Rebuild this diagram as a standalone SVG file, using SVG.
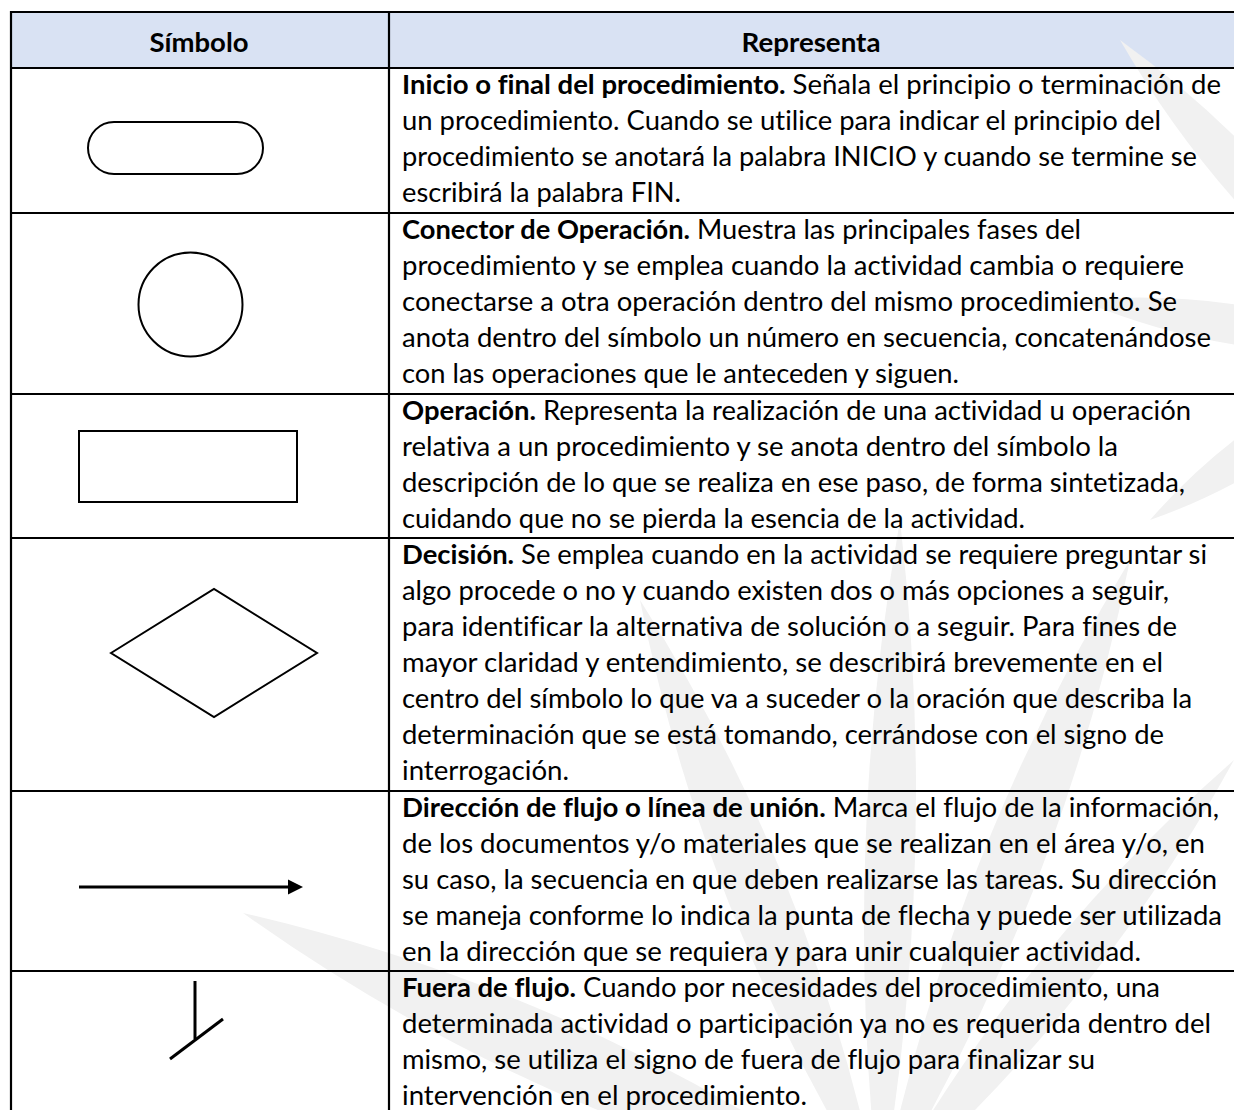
<svg xmlns="http://www.w3.org/2000/svg" width="1234" height="1110" viewBox="0 0 1234 1110">
<style>
.grid{stroke:#000;stroke-width:2.2;fill:none}
.sym{stroke:#000;fill:none;stroke-width:2}
.hd{font-family:Lato,"Liberation Sans",Arial,sans-serif;font-weight:bold;font-size:27px;fill:#000;text-anchor:middle}
.tx{font-family:Lato,"Liberation Sans",Arial,sans-serif;font-size:27px;fill:#000;font-variant-ligatures:none}
.b{font-weight:bold}
.wm{fill:#f1f1f1}
</style>
<rect x="0" y="0" width="1234" height="1110" fill="#fff"/>
<rect x="11" y="12" width="1223" height="56" fill="#D9E2F3"/>
<g id="watermark">
<path class="wm" d="M880,1200 Q590,993 243,913 Q533,1120 880,1200 Z"/>
<path class="wm" d="M880,1200 Q816,878 640,600 Q704,922 880,1200 Z"/>
<path class="wm" d="M880,1200 Q940,862 900,520 Q840,858 880,1200 Z"/>
<path class="wm" d="M880,1200 Q1061,902 1130,560 Q949,858 880,1200 Z"/>
<path class="wm" d="M880,1200 Q1096,1011 1234,760 Q1018,949 880,1200 Z"/>
<path class="wm" d="M1400,350 Q1293,165 1120,40 Q1227,225 1400,350 Z"/>
<path class="wm" d="M1400,350 Q1246,286 1080,300 Q1234,365 1400,350 Z"/>
<path class="wm" d="M1400,350 Q1298,468 1150,520 Q1253,402 1400,350 Z"/>
</g>
<g id="table">
<line class="grid" x1="11" y1="12" x2="1234" y2="12"/>
<line class="grid" x1="11" y1="68" x2="1234" y2="68"/>
<line class="grid" x1="11" y1="213" x2="1234" y2="213"/>
<line class="grid" x1="11" y1="394" x2="1234" y2="394"/>
<line class="grid" x1="11" y1="538" x2="1234" y2="538"/>
<line class="grid" x1="11" y1="791" x2="1234" y2="791"/>
<line class="grid" x1="11" y1="971" x2="1234" y2="971"/>
<line class="grid" x1="11" y1="11" x2="11" y2="1110"/>
<line class="grid" x1="389" y1="11" x2="389" y2="1110"/>
</g>
<g id="header">
<text class="hd" x="199" y="52" textLength="99" lengthAdjust="spacingAndGlyphs">Símbolo</text>
<text class="hd" x="811" y="52" textLength="139" lengthAdjust="spacingAndGlyphs">Representa</text>
</g>
<g id="node-terminal">
<rect class="sym" x="88" y="122" width="175" height="52" rx="26" ry="26" stroke-width="1.5"/>
</g>
<g id="node-connector">
<circle class="sym" cx="190.5" cy="304.5" r="52" stroke-width="1.5"/>
</g>
<g id="node-operation">
<rect class="sym" x="79" y="431" width="218" height="71"/>
</g>
<g id="node-decision">
<polygon class="sym" points="111,653 214,589 317,653 214,717"/>
</g>
<g id="connectors">
<g id="node-flow">
<line x1="79" y1="887" x2="290" y2="887" stroke="#000" stroke-width="3"/>
<polygon points="288,879.5 303,887 288,894.5" fill="#000"/>
</g>
<g id="node-offflow">
<line x1="195" y1="981" x2="195" y2="1039" stroke="#000" stroke-width="3"/>
<line x1="170" y1="1059" x2="223" y2="1019" stroke="#000" stroke-width="3"/>
</g>
</g>
<g id="text-row1">
<text class="tx" x="402" y="94" textLength="819" lengthAdjust="spacingAndGlyphs"><tspan class="b">Inicio o final del procedimiento.</tspan> Señala el principio o terminación de</text>
<text class="tx" x="402" y="130" textLength="759" lengthAdjust="spacingAndGlyphs">un procedimiento. Cuando se utilice para indicar el principio del</text>
<text class="tx" x="402" y="166" textLength="795" lengthAdjust="spacingAndGlyphs">procedimiento se anotará la palabra INICIO y cuando se termine se</text>
<text class="tx" x="402" y="202" textLength="279" lengthAdjust="spacingAndGlyphs">escribirá la palabra FIN.</text>
</g>
<g id="text-row2">
<text class="tx" x="402" y="239" textLength="679" lengthAdjust="spacingAndGlyphs"><tspan class="b">Conector de Operación.</tspan> Muestra las principales fases del</text>
<text class="tx" x="402" y="275" textLength="782" lengthAdjust="spacingAndGlyphs">procedimiento y se emplea cuando la actividad cambia o requiere</text>
<text class="tx" x="402" y="311" textLength="775" lengthAdjust="spacingAndGlyphs">conectarse a otra operación dentro del mismo procedimiento. Se</text>
<text class="tx" x="402" y="347" textLength="809" lengthAdjust="spacingAndGlyphs">anota dentro del símbolo un número en secuencia, concatenándose</text>
<text class="tx" x="402" y="383" textLength="557" lengthAdjust="spacingAndGlyphs">con las operaciones que le anteceden y siguen.</text>
</g>
<g id="text-row3">
<text class="tx" x="402" y="420" textLength="789" lengthAdjust="spacingAndGlyphs"><tspan class="b">Operación.</tspan> Representa la realización de una actividad u operación</text>
<text class="tx" x="402" y="456" textLength="716" lengthAdjust="spacingAndGlyphs">relativa a un procedimiento y se anota dentro del símbolo la</text>
<text class="tx" x="402" y="492" textLength="783" lengthAdjust="spacingAndGlyphs">descripción de lo que se realiza en ese paso, de forma sintetizada,</text>
<text class="tx" x="402" y="528" textLength="623" lengthAdjust="spacingAndGlyphs">cuidando que no se pierda la esencia de la actividad.</text>
</g>
<g id="text-row4">
<text class="tx" x="402" y="564" textLength="805" lengthAdjust="spacingAndGlyphs"><tspan class="b">Decisión.</tspan> Se emplea cuando en la actividad se requiere preguntar si</text>
<text class="tx" x="402" y="600" textLength="767" lengthAdjust="spacingAndGlyphs">algo procede o no y cuando existen dos o más opciones a seguir,</text>
<text class="tx" x="402" y="636" textLength="775" lengthAdjust="spacingAndGlyphs">para identificar la alternativa de solución o a seguir. Para fines de</text>
<text class="tx" x="402" y="672" textLength="761" lengthAdjust="spacingAndGlyphs">mayor claridad y entendimiento, se describirá brevemente en el</text>
<text class="tx" x="402" y="708" textLength="790" lengthAdjust="spacingAndGlyphs">centro del símbolo lo que va a suceder o la oración que describa la</text>
<text class="tx" x="402" y="744" textLength="762" lengthAdjust="spacingAndGlyphs">determinación que se está tomando, cerrándose con el signo de</text>
<text class="tx" x="402" y="780" textLength="167" lengthAdjust="spacingAndGlyphs">interrogación.</text>
</g>
<g id="text-row5">
<text class="tx" x="402" y="817" textLength="817" lengthAdjust="spacingAndGlyphs"><tspan class="b">Dirección de flujo o línea de unión.</tspan> Marca el flujo de la información,</text>
<text class="tx" x="402" y="853" textLength="803" lengthAdjust="spacingAndGlyphs">de los documentos y/o materiales que se realizan en el área y/o, en</text>
<text class="tx" x="402" y="889" textLength="815" lengthAdjust="spacingAndGlyphs">su caso, la secuencia en que deben realizarse las tareas. Su dirección</text>
<text class="tx" x="402" y="925" textLength="820" lengthAdjust="spacingAndGlyphs">se maneja conforme lo indica la punta de flecha y puede ser utilizada</text>
<text class="tx" x="402" y="961" textLength="739" lengthAdjust="spacingAndGlyphs">en la dirección que se requiera y para unir cualquier actividad.</text>
</g>
<g id="text-row6">
<text class="tx" x="402" y="997" textLength="758" lengthAdjust="spacingAndGlyphs"><tspan class="b">Fuera de flujo.</tspan> Cuando por necesidades del procedimiento, una</text>
<text class="tx" x="402" y="1033" textLength="809" lengthAdjust="spacingAndGlyphs">determinada actividad o participación ya no es requerida dentro del</text>
<text class="tx" x="402" y="1069" textLength="693" lengthAdjust="spacingAndGlyphs">mismo, se utiliza el signo de fuera de flujo para finalizar su</text>
<text class="tx" x="402" y="1105" textLength="405" lengthAdjust="spacingAndGlyphs">intervención en el procedimiento.</text>
</g>
</svg>
